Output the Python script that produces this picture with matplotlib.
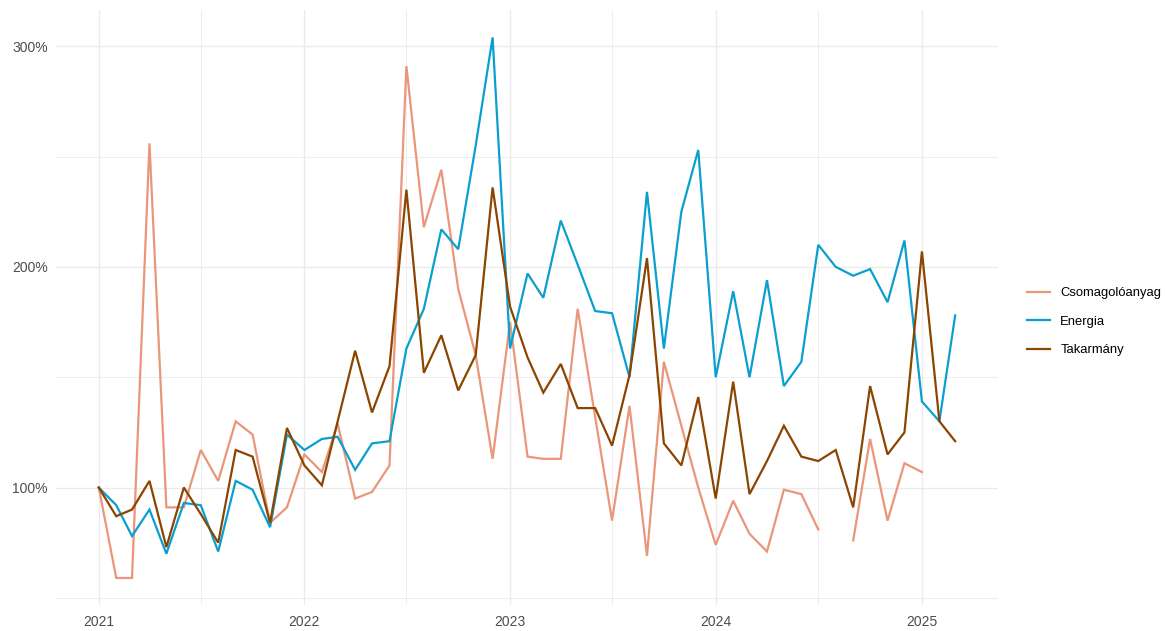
import numpy as np
import pandas as pd
import matplotlib
matplotlib.use("Agg")
import matplotlib.pyplot as plt
import matplotlib.dates as mdates
from matplotlib.ticker import FuncFormatter

# monthly index values (%), Jan 2021 = 100
months = pd.date_range("2021-01-01", "2025-03-01", freq="MS")

csomagolo = [100, 59, 59, 256, 91, 91, 117, 103, 130, 124, 84, 91,
             115, 107, 129, 95, 98, 110, 291, 218, 244, 190, 160, 113,
             175, 114, 113, 113, 181, 132, 85, 137, 69, 157, 128, 100,
             74, 94, 79, 71, 99, 97, 81, np.nan, 76, 122, 85, 111,
             107, np.nan, np.nan]

energia = [100, 92, 78, 90, 70, 93, 92, 71, 103, 99, 82, 124,
           117, 122, 123, 108, 120, 121, 163, 181, 217, 208, 255, 304,
           163, 197, 186, 221, 201, 180, 179, 150, 234, 163, 225, 253,
           150, 189, 150, 194, 146, 157, 210, 200, 196, 199, 184, 212,
           139, 130, 178]

takarmany = [100, 87, 90, 103, 73, 100, 88, 75, 117, 114, 84, 127,
             110, 101, 130, 162, 134, 155, 235, 152, 169, 144, 160, 236,
             182, 159, 143, 156, 136, 136, 119, 151, 204, 120, 110, 141,
             95, 148, 97, 112, 128, 114, 112, 117, 91, 146, 115, 125,
             207, 130, 121]

series = [("Csomagolóanyag", csomagolo, "#E9967A"),
          ("Energia", energia, "#0A9FCF"),
          ("Takarmány", takarmany, "#8B4500")]

plt.rcParams["font.family"] = ["Liberation Sans", "DejaVu Sans"]

fig = plt.figure(figsize=(11.73, 6.31), dpi=100)
ax = fig.add_axes([0.0477, 0.0412, 0.8031, 0.9423])

for name, vals, color in series:
    ax.plot(months, vals, color=color, lw=1.6, label=name,
            solid_joinstyle="miter")

# ggplot-like expansion of 5%
x0 = mdates.date2num(months[0])
x1 = mdates.date2num(months[-1])
pad = (x1 - x0) * 0.05
ax.set_xlim(x0 - pad, x1 + pad)
allv = np.concatenate([np.array(v, dtype=float) for _, v, _ in series])
lo, hi = np.nanmin(allv), np.nanmax(allv)
ypad = (hi - lo) * 0.05
ax.set_ylim(lo - ypad, hi + ypad)

ax.xaxis.set_major_locator(mdates.YearLocator())
ax.xaxis.set_major_formatter(mdates.DateFormatter("%Y"))
ax.xaxis.set_minor_locator(mdates.MonthLocator(bymonth=7))
ax.set_yticks([100, 200, 300])
ax.set_yticks([50, 150, 250], minor=True)
ax.yaxis.set_major_formatter(FuncFormatter(lambda v, p: f"{v:.0f}%"))

ax.grid(which="major", color="#EBEBEB", lw=1.0)
ax.grid(which="minor", color="#EBEBEB", lw=0.6)
ax.set_axisbelow(True)
for s in ax.spines.values():
    s.set_visible(False)
ax.tick_params(which="both", length=0, labelsize=10, colors="#4D4D4D")
ax.tick_params(axis="x", pad=7)
ax.tick_params(axis="y", pad=6)

leg = fig.legend(loc="center left", bbox_to_anchor=(0.8655, 0.49),
                 frameon=False, fontsize=9.4, handlelength=1.8,
                 labelspacing=1.25, handletextpad=0.75)

fig.savefig("out.png", dpi=100)
